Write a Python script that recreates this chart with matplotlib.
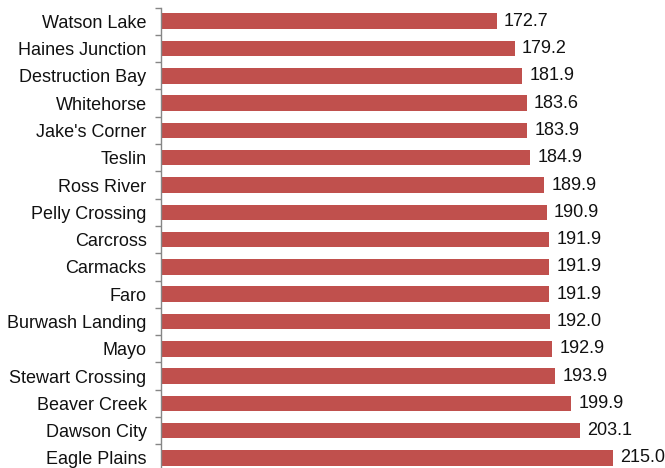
import matplotlib
matplotlib.use("Agg")
import matplotlib.pyplot as plt
import numpy as np

plt.rcParams['font.family'] = ['Liberation Sans', 'DejaVu Sans']

communities = ["Watson Lake", "Haines Junction", "Destruction Bay", "Whitehorse",
               "Jake's Corner", "Teslin", "Ross River", "Pelly Crossing", "Carcross",
               "Carmacks", "Faro", "Burwash Landing", "Mayo", "Stewart Crossing",
               "Beaver Creek", "Dawson City", "Eagle Plains"]
values = [172.7, 179.2, 181.9, 183.6, 183.9, 184.9, 189.9, 190.9, 191.9,
          191.9, 191.9, 192.0, 192.9, 193.9, 199.9, 203.1, 215.0]

W, H = 665, 468
fig = plt.figure(figsize=(W / 100, H / 100), dpi=100)
left = 160.5 / W
top_px, bot_px = 7.6, 471.6
ax = fig.add_axes([left, 1 - bot_px / H, 1 - left, (bot_px - top_px) / H])

n = len(communities)
y = np.arange(n)
xmin = 50
ax.barh(y, np.array(values) - xmin, left=xmin, height=0.57, color="#C0504D", zorder=2)
ax.set_xlim(xmin, xmin + (W - 160.5) / 2.74)
ax.set_ylim(n - 0.5, -0.5)

for yi, v in zip(y, values):
    ax.annotate(f"{v:.1f}", xy=(v, yi), xytext=(5.3, 0), textcoords="offset points",
                va="center", ha="left", fontsize=13, color="#111111", clip_on=False)

for s in ["top", "right", "bottom"]:
    ax.spines[s].set_visible(False)
ax.spines["left"].set_color("#868686")
ax.spines["left"].set_linewidth(1.0)

ax.set_xticks([])
ax.set_yticks(np.arange(-0.5, n, 1.0))
ax.set_yticklabels([])
ax.tick_params(axis="y", which="major", length=4.3, width=1.0, color="#868686", direction="out")
ax.set_yticks(y, minor=True)
ax.set_yticklabels(communities, minor=True)
ax.tick_params(axis="y", which="minor", length=0, pad=10, labelsize=13, labelcolor="#111111")

fig.savefig("out.png", dpi=100)
